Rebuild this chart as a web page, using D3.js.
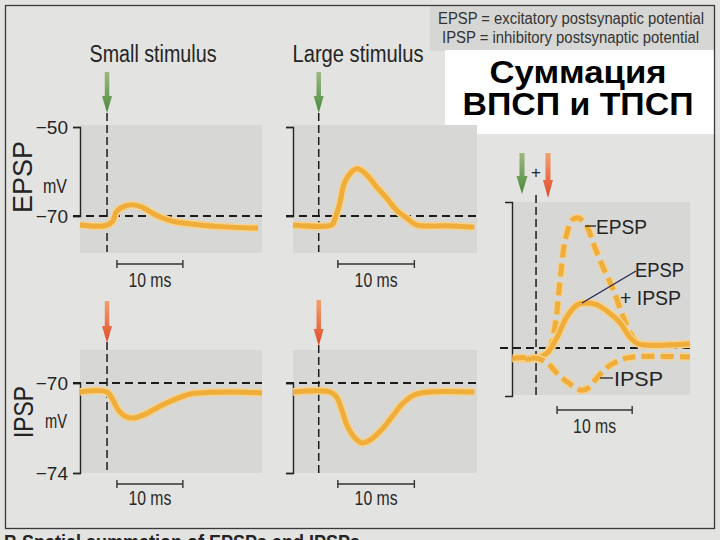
<!DOCTYPE html>
<html><head><meta charset="utf-8">
<script src="https://cdn.jsdelivr.net/npm/d3@7"></script>
<style>
html,body{margin:0;padding:0;background:#e3e3e1;}
svg{display:block;}
</style></head><body>
<svg id="chart" width="720" height="540"></svg>
<script>
// ---------------- data ----------------
const restingMv = -70;
const epspTicks = [-50, -70];
const ipspTicks = [-70, -74];
const scaleBarLabel = "10 ms";

// time (ms from stimulus) and membrane potential (mV)
const smallEpspT  = [-4.1, -0.3, 0.8, 1.5, 2.7, 3.9, 5.3, 6.8, 8.3, 10.3, 14.1, 18.6, 22.9];
const smallEpspMv = [-72.0, -72.2, -71.3, -68.9, -67.8, -67.5, -68.0, -69.3, -70.4, -71.3, -72.0, -72.5, -72.7];

const largeEpspT  = [-3.9, 2.0, 2.4, 3.2, 3.9, 5.0, 5.9, 7.3, 8.8, 10.3, 11.8, 13.3, 14.8, 19.4, 23.6];
const largeEpspMv = [-72.0, -72.0, -70.9, -67.1, -62.6, -60.1, -59.4, -60.8, -63.5, -66.0, -68.7, -70.4, -72.0, -72.2, -72.5];

const smallIpspT  = [-4.1, 0.0, 0.9, 1.7, 2.7, 3.9, 5.5, 7.6, 10.0, 12.6, 14.1, 19.1, 23.5];
const smallIpspMv = [-70.4, -70.4, -70.76, -71.2, -71.47, -71.56, -71.42, -71.1, -70.76, -70.49, -70.44, -70.4, -70.44];

const largeIpspT  = [-3.9, 1.7, 2.7, 3.5, 4.4, 5.5, 6.6, 8.0, 9.5, 11.1, 12.8, 14.5, 16.8, 23.6];
const largeIpspMv = [-70.4, -70.4, -70.62, -71.2, -71.96, -72.44, -72.67, -72.49, -72.09, -71.51, -70.89, -70.53, -70.4, -70.4];

const sumEpspT  = [-3.1, 0.1, 1.5, 2.5, 3.2, 3.9, 4.8, 5.6, 6.8, 7.6, 8.9, 10.3, 11.6, 12.9, 13.9, 20.5];
const sumEpspMv = [-71.7, -71.7, -70.8, -66.5, -58.7, -52.0, -48.7, -48.3, -49.8, -52.5, -56.5, -60.3, -64.8, -68.2, -69.3, -69.3];
const sumBothT  = [-3.1, 0.1, 1.5, 2.8, 4.1, 5.5, 6.8, 8.1, 9.6, 11.2, 12.5, 13.6, 20.5];
const sumBothMv = [-71.7, -71.7, -70.8, -68.2, -64.8, -62.8, -62.5, -62.8, -64.0, -65.8, -68.2, -69.3, -69.3];
const sumIpspT  = [-3.1, 0.1, 1.5, 2.8, 4.3, 5.9, 6.8, 8.1, 9.5, 11.2, 12.9, 20.5];
const sumIpspMv = [-71.7, -71.7, -72.5, -74.2, -75.8, -77.0, -76.8, -75.0, -73.2, -72.0, -71.5, -71.5];

// scale bars (ms)
const barSmall = [1.5, 11.5];
const barLarge = [2.9, 14.5];
const barSum   = [2.8, 12.8];

const zip = (t, v) => t.map((d, i) => [d, v[i]]);

// ---------------- drawing ----------------
const svg = d3.select("#chart");
const NARROW = "'Liberation Sans Narrow','Arial Narrow','Liberation Sans',Arial,sans-serif";
const SANS = "'Liberation Sans',Arial,Helvetica,sans-serif";
const INK = "#242424";
const PLOTBG = "#d7d7d5";

svg.append("rect").attr("width", 720).attr("height", 540).attr("fill", "#e3e3e1");
svg.append("rect").attr("x", 430).attr("y", 6).attr("width", 284).attr("height", 45).attr("fill", "#d6d6d4");
svg.append("rect").attr("x", 445).attr("y", 50).attr("width", 269).attr("height", 84).attr("fill", "#ffffff");

const defs = svg.append("defs");
function grad(id, c1, c2) {
  const g = defs.append("linearGradient").attr("id", id).attr("x1", 0).attr("y1", 0).attr("x2", 0).attr("y2", 1);
  g.append("stop").attr("offset", "0%").attr("stop-color", c1);
  g.append("stop").attr("offset", "100%").attr("stop-color", c2);
}
grad("gGreen", "#9cb97e", "#4a8a3c");
grad("gRed", "#f2a070", "#e04a2a");

function txt(s, x, y, size, opts = {}) {
  const t = svg.append("text").attr("x", x).attr("y", y)
    .attr("font-family", opts.family || NARROW).attr("font-size", size)
    .attr("fill", opts.fill || INK).attr("text-anchor", opts.anchor || "start")
    .attr("font-weight", opts.weight || "normal").text(s);
  if (opts.len) t.attr("textLength", opts.len).attr("lengthAdjust", "spacingAndGlyphs");
  if (opts.rotate) t.attr("transform", `rotate(${opts.rotate},${x},${y})`);
  return t;
}

function arrow(x, top, bot, fill, sw, hw, hl) {
  const p = d3.path();
  p.moveTo(x - sw / 2, top); p.lineTo(x + sw / 2, top); p.lineTo(x + sw / 2, bot - hl);
  p.lineTo(x + hw / 2, bot - hl); p.lineTo(x, bot); p.lineTo(x - hw / 2, bot - hl);
  p.lineTo(x - sw / 2, bot - hl); p.closePath();
  svg.append("path").attr("d", p.toString()).attr("fill", fill);
}

function trace(g, data, x, y, dashed) {
  const line = d3.line().x(d => x(d[0])).y(d => y(d[1])).curve(d3.curveCatmullRom.alpha(0.5));
  const under = g.append("path").attr("d", line(data)).attr("fill", "none")
    .attr("stroke", "#f7d28a").attr("stroke-width", 8).attr("stroke-linejoin", "round");
  const main = g.append("path").attr("d", line(data)).attr("fill", "none")
    .attr("stroke", "#efad3c").attr("stroke-width", 5).attr("stroke-linejoin", "round");
  if (dashed) { under.attr("stroke-dasharray", "13,6"); main.attr("stroke-dasharray", "13,6"); }
}

const panels = [
  { xr: [80, 262], td: [-4.1, 23.5], yd: [-70, -50], yr: [216, 127], bg: [125, 253], ticks: epspTicks, labels: true,
    series: [[zip(smallEpspT, smallEpspMv), false]], bar: barSmall, barY: 264, labelY: 287, stim: [113, 252],
    arrow: ["url(#gGreen)", 72, 113] },
  { xr: [293, 477], td: [-3.9, 24.0], yd: [-70, -50], yr: [216, 127], bg: [125, 253], ticks: epspTicks, labels: false,
    series: [[zip(largeEpspT, largeEpspMv), false]], bar: barLarge, barY: 264, labelY: 287, stim: [113, 252],
    arrow: ["url(#gGreen)", 72, 113] },
  { xr: [80, 262], td: [-4.1, 23.5], yd: [-74, -70], yr: [473, 383], bg: [350, 473], ticks: ipspTicks, labels: true,
    series: [[zip(smallIpspT, smallIpspMv), false]], bar: barSmall, barY: 484, labelY: 505, stim: [342, 473],
    arrow: ["url(#gRed)", 301, 343] },
  { xr: [293, 477], td: [-3.9, 24.0], yd: [-74, -70], yr: [473, 383], bg: [350, 473], ticks: ipspTicks, labels: false,
    series: [[zip(largeIpspT, largeIpspMv), false]], bar: barLarge, barY: 484, labelY: 505, stim: [345, 473],
    arrow: ["url(#gRed)", 300, 346] },
  { xr: [512, 690], td: [-3.2, 20.5], yd: [-78, -45.67], yr: [396, 202], bg: [202, 395], ticks: [], labels: false, bracket: true,
    series: [[zip(sumEpspT, sumEpspMv), true], [zip(sumBothT, sumBothMv), false], [zip(sumIpspT, sumIpspMv), true]],
    bar: barSum, barY: 410, labelY: 433, stim: [195, 397], lead: 12 }
];

panels.forEach(p => {
  const x = d3.scaleLinear().domain(p.td).range(p.xr);
  const y = d3.scaleLinear().domain(p.yd).range(p.yr);
  const g = svg.append("g");
  g.append("rect").attr("x", p.xr[0]).attr("y", p.bg[0]).attr("width", p.xr[1] - p.xr[0])
    .attr("height", p.bg[1] - p.bg[0]).attr("fill", PLOTBG);

  // axis bracket
  let axis;
  if (p.bracket) {
    axis = d3.axisLeft(y).tickValues([]).tickSizeOuter(7);
  } else {
    const ext = d3.extent(p.ticks);
    const as = y.copy().domain(ext).range(ext.map(y));
    axis = d3.axisLeft(as).tickValues(p.ticks).tickSize(7).tickPadding(5)
      .tickFormat(p.labels ? d3.format("d") : () => "");
  }
  const ag = g.append("g").attr("transform", `translate(${p.xr[0]},0)`).call(axis);
  ag.select(".domain").attr("stroke", INK).attr("stroke-width", 1.4);
  ag.selectAll(".tick line").attr("stroke", INK).attr("stroke-width", 1.4);
  ag.selectAll("text").attr("font-family", SANS).attr("font-size", 19).attr("fill", INK);

  // baseline dashed and stimulus dashed
  g.append("line").attr("x1", p.xr[0] - (p.lead || 7)).attr("x2", p.xr[1])
    .attr("y1", y(restingMv)).attr("y2", y(restingMv))
    .attr("stroke", "#1c1c1c").attr("stroke-width", 1.8).attr("stroke-dasharray", "8,5");
  g.append("line").attr("x1", x(0)).attr("x2", x(0)).attr("y1", p.stim[0]).attr("y2", p.stim[1])
    .attr("stroke", "#1c1c1c").attr("stroke-width", 1.5).attr("stroke-dasharray", "8,4");

  p.series.forEach(([data, dashed]) => trace(g, data, x, y, dashed));

  // scale bar
  const b0 = x(p.bar[0]), b1 = x(p.bar[1]);
  g.append("line").attr("x1", b0).attr("x2", b1).attr("y1", p.barY).attr("y2", p.barY).attr("stroke", "#333").attr("stroke-width", 1.6);
  [b0, b1].forEach(bx => g.append("line").attr("x1", bx).attr("x2", bx).attr("y1", p.barY - 4).attr("y2", p.barY + 4)
    .attr("stroke", "#333").attr("stroke-width", 1.4));
  txt(scaleBarLabel, (b0 + b1) / 2, p.labelY, 20, { anchor: "middle", len: 43, fill: "#2a2a2a" });

  if (p.arrow) arrow(x(0), p.arrow[1], p.arrow[2], p.arrow[0], 4.5, 10, 17);
});

// summation panel arrows and annotations
arrow(522, 153, 194, "url(#gGreen)", 5, 11, 18);
arrow(548, 153, 198, "url(#gRed)", 5, 10, 18);
txt("+", 536, 178, 17, { anchor: "middle" });

const lab = svg.append("g").attr("stroke", INK).attr("stroke-width", 1.3);
lab.append("line").attr("x1", 585).attr("x2", 596).attr("y1", 226).attr("y2", 226);
lab.append("line").attr("x1", 600).attr("x2", 613).attr("y1", 378).attr("y2", 378);
svg.append("line").attr("x1", 582).attr("y1", 303).attr("x2", 636).attr("y2", 271)
  .attr("stroke", "#1d2050").attr("stroke-width", 1.2);
txt("EPSP", 596, 234, 21, { len: 51 });
txt("EPSP", 635, 277, 21, { len: 49 });
txt("+ IPSP", 620, 305, 21, { len: 61 });
txt("IPSP", 614, 386, 21, { len: 49 });

// titles
txt("Small stimulus", 153, 62, 23, { anchor: "middle", len: 127 });
txt("Large stimulus", 358, 62, 23, { anchor: "middle", len: 131 });

// side labels
txt("EPSP", 32, 177, 27, { anchor: "middle", rotate: -90, family: SANS, len: 72 });
txt("mV", 67, 193, 20, { anchor: "end", len: 24 });
txt("IPSP", 33, 412, 27, { anchor: "middle", rotate: -90, family: SANS, len: 52 });
txt("mV", 67, 428, 20, { anchor: "end", len: 22 });

// header legend
txt("EPSP = excitatory postsynaptic potential", 438, 24, 16, { len: 266, fill: "#333" });
txt("IPSP = inhibitory postsynaptic potential", 442, 43, 16, { len: 257, fill: "#333" });

// Russian heading
txt("Суммация", 578, 83, 31, { anchor: "middle", family: SANS, weight: "bold", len: 177, fill: "#000" });
txt("ВПСП и ТПСП", 578, 115, 31, { anchor: "middle", family: SANS, weight: "bold", len: 231, fill: "#000" });

// frame
svg.append("rect").attr("x", 5.5).attr("y", 5.5).attr("width", 709).attr("height", 523)
  .attr("fill", "none").attr("stroke", "#3a3a3a").attr("stroke-width", 1.3);

// caption below frame (cut off at the page edge, as in the reference)
txt("B  Spatial summation of EPSPs and IPSPs", 4, 549, 20, { family: SANS, weight: "bold", len: 356 });
</script>
</body></html>
